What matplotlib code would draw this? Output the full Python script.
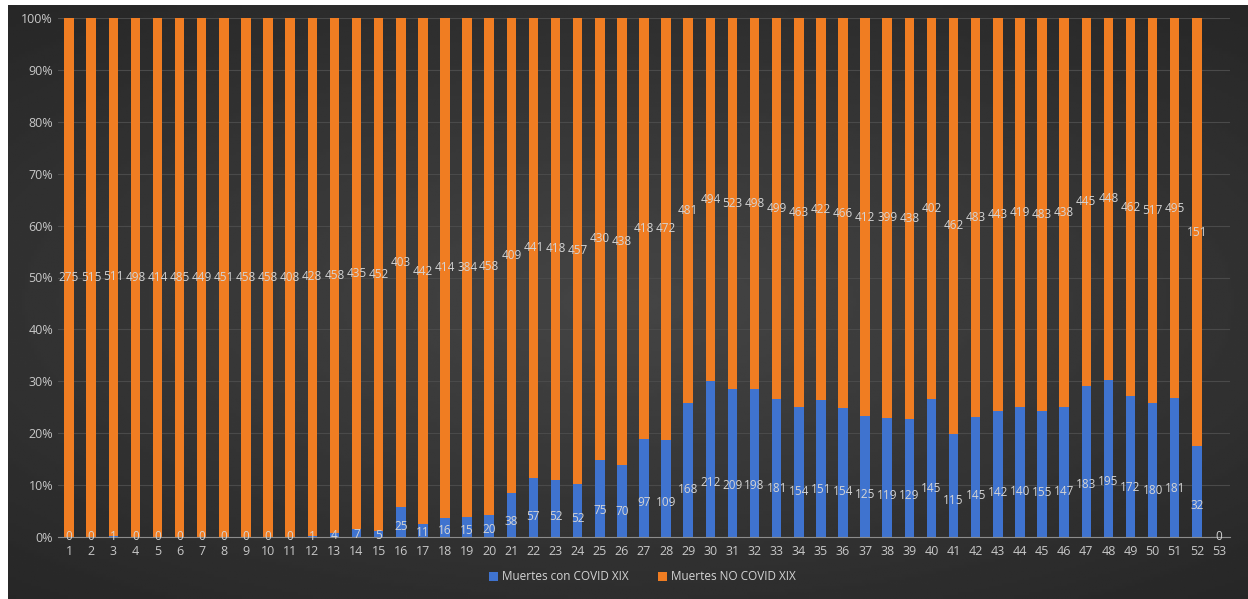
import numpy as np
import matplotlib.pyplot as plt

# weekly deaths
weeks = list(range(1, 54))
covid = [0, 0, 1, 0, 0, 0, 0, 0, 0, 0, 0, 1, 4, 7, 5, 25, 11, 16, 15, 20,
         38, 57, 52, 52, 75, 70, 97, 109, 168, 212, 209, 198, 181, 154, 151, 154,
         125, 119, 129, 145, 115, 145, 142, 140, 155, 147, 183, 195, 172, 180, 181, 32, 0]
no_covid = [275, 515, 511, 498, 414, 485, 449, 451, 458, 458, 408, 428, 458, 435, 452,
            403, 442, 414, 384, 458, 409, 441, 418, 457, 430, 438, 418, 472, 481, 494,
            523, 498, 499, 463, 422, 466, 412, 399, 438, 402, 462, 483, 443, 419, 483,
            438, 445, 448, 462, 517, 495, 151, 0]

plt.rcParams['font.family'] = ['Open Sans', 'DejaVu Sans']

fig = plt.figure(figsize=(12.48, 5.99), dpi=100, facecolor='white')

# dark gradient background
bg = fig.add_axes([8 / 1248, 0, 1 - 8 / 1248, 594 / 599], zorder=-10)
yy, xx = np.mgrid[-1:1:200j, -1:1:400j]
r = np.sqrt((xx * 0.85) ** 2 + (yy * 1.0) ** 2)
shade = np.clip(0.27 - 0.09 * r, 0.14, 0.3)
bg.imshow(shade, cmap='gray', vmin=0, vmax=1, aspect='auto', extent=[0, 1, 0, 1])
bg.axis('off')

ax = fig.add_axes([58 / 1248, 62 / 599, 1172 / 1248, 519 / 599])
ax.set_facecolor('none')

c = np.array(covid, dtype=float)
n = np.array(no_covid, dtype=float)
tot = c + n
tot[tot == 0] = 1
pc = c / tot
pn = n / tot

x = np.array(weeks)
ax.bar(x, pc, width=0.43, color='#3f73cf', label='Muertes con COVID XIX', zorder=3)
ax.bar(x, pn, width=0.43, bottom=pc, color='#f07d22', label='Muertes NO COVID XIX', zorder=3)

lab = '#d4d4d4'
for i in range(len(weeks)):
    if covid[i] + no_covid[i] == 0:
        ax.plot([x[i] - 0.35, x[i] + 0.05], [0, 0], color='#9a9a9a', lw=0.8, zorder=4)
        ax.text(x[i], 0, '0', color=lab, fontsize=8.5, ha='center', va='center', zorder=5)
        continue
    ax.text(x[i], pc[i] * 0.35, str(covid[i]), color=lab, fontsize=8.5,
            ha='center', va='center', zorder=5)
    ax.text(x[i], pc[i] + pn[i] / 2, str(no_covid[i]), color=lab, fontsize=8.5,
            ha='center', va='center', zorder=5)

ax.set_xlim(0.5, 53.5)
ax.set_ylim(0, 1)
ax.set_yticks(np.arange(0, 1.01, 0.1))
ax.set_yticklabels([f'{int(round(v * 100))}%' for v in np.arange(0, 1.01, 0.1)])
ax.set_xticks(x)
ax.set_xticklabels([str(w) for w in weeks])
ax.tick_params(colors='#c8c8c8', labelsize=9, length=0)
ax.tick_params(axis='x', pad=6)
ax.grid(axis='y', color='#4a4a4a', lw=0.8, zorder=0)
for s in ['top', 'right', 'left']:
    ax.spines[s].set_visible(False)
ax.spines['bottom'].set_color('#8c8c8c')
ax.spines['bottom'].set_zorder(4)

fig.legend(loc='center', bbox_to_anchor=(0.515, 22 / 599), ncol=2, frameon=False,
           fontsize=8.5, labelcolor='#d4d4d4', handlelength=0.7, handleheight=0.7,
           columnspacing=2.5, handletextpad=0.4)

fig.savefig('out.png', dpi=100, facecolor='white')
